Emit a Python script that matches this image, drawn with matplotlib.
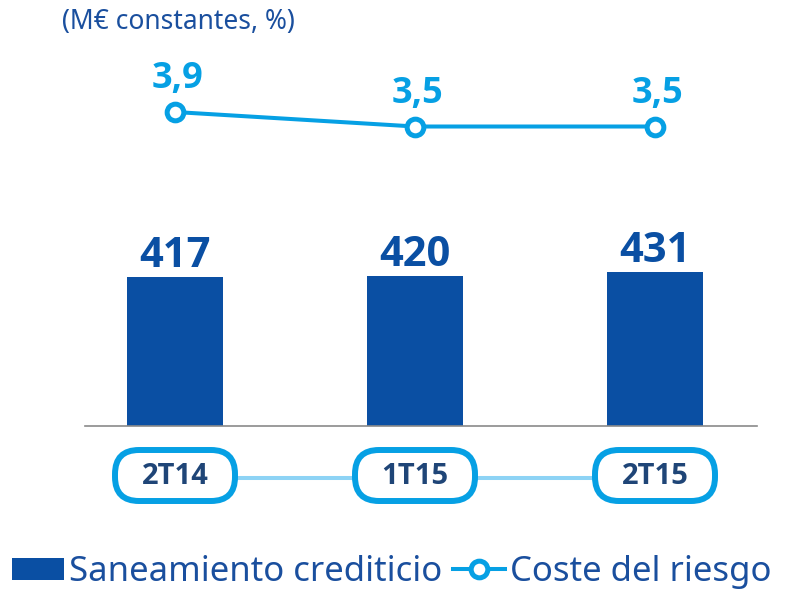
import matplotlib
matplotlib.use("Agg")
import matplotlib.pyplot as plt
from matplotlib.patches import FancyBboxPatch
from matplotlib import font_manager as fm

categories = ["2T14", "1T15", "2T15"]
saneamiento = [417, 420, 431]
coste_riesgo = [3.9, 3.5, 3.5]
coste_labels = ["3,9", "3,5", "3,5"]
title_text = "(M€ constantes, %)"
legend_labels = ["Saneamiento crediticio", "Coste del riesgo"]

BAR = "#0a4fa3"
LINE = "#06a0e4"
NAVY = "#1f4577"
CONN = "#8dd3f5"
FONT = ["Noto Sans", "DejaVu Sans"]
plt.rcParams["font.family"] = FONT

# pick a family that really has a bold face
BOLD = ["DejaVu Sans"]
for fam in ["Open Sans", "Noto Sans", "Lato", "Roboto", "Liberation Sans"]:
    try:
        f = fm.findfont(fm.FontProperties(family=fam, weight="bold"),
                        fallback_to_default=False)
        if "bold" in f.lower() or "Bd" in f or "700" in f:
            BOLD = [fam, "DejaVu Sans"]
            break
    except Exception:
        pass

W, H = 796, 592
fig = plt.figure(figsize=(W / 100, H / 100), dpi=100)

ax = fig.add_axes([85 / W, 1 - 426 / H, 672 / W, 426 / H])
x = list(range(len(categories)))
bars = ax.bar(x, saneamiento, width=0.4, color=BAR, zorder=2,
              label=legend_labels[0])
ax.set_xlim(-0.375, 2.425)
ax.set_ylim(0, 1192.3)
for s in ["top", "left", "right"]:
    ax.spines[s].set_visible(False)
ax.spines["bottom"].set_color("#8a8a8a")
ax.spines["bottom"].set_linewidth(1.2)
ax.set_xticks([])
ax.set_yticks([])
ax.patch.set_alpha(0)

for xi, v in zip(x, saneamiento):
    ax.annotate(str(v), (xi, v), xytext=(0, 7.2), textcoords="offset points",
                ha="center", va="baseline", fontsize=30, fontweight="bold",
                family=BOLD, color=BAR)

ax2 = ax.twinx()
ax2.set_ylim(-4.762, 6.99)
ax2.axis("off")
line, = ax2.plot(x, coste_riesgo, color=LINE, lw=2.9, marker="o",
                 markersize=12, markerfacecolor="white",
                 markeredgecolor=LINE, markeredgewidth=3.6, zorder=3,
                 clip_on=False, label=legend_labels[1])
for xi, v, lab in zip(x, coste_riesgo, coste_labels):
    ax2.annotate(lab, (xi, v), xytext=(2, 17), textcoords="offset points",
                 ha="center", va="baseline", fontsize=26, fontweight="bold",
                 family=BOLD, color=LINE)

# category pills
ov = fig.add_axes([0, 0, 1, 1], zorder=5)
ov.set_xlim(0, W)
ov.set_ylim(0, H)
ov.axis("off")
ov.patch.set_alpha(0)
fig.canvas.draw()
cx = [ax.transData.transform((xi, 0))[0] for xi in x]
yc = H - 475.5
ov.plot([cx[0], cx[-1]], [H - 478, H - 478], color=CONN, lw=2.9, zorder=1,
        solid_capstyle="butt")
pw, ph = 120, 51
for c, lab in zip(cx, categories):
    p = FancyBboxPatch((c - pw / 2, yc - ph / 2), pw, ph,
                       boxstyle="round,pad=0,rounding_size=24",
                       facecolor="white", edgecolor=LINE, lw=4.3, zorder=2)
    ov.add_patch(p)
    ov.text(c, yc - 1, lab, ha="center", va="center", fontsize=21,
            fontweight="bold", family=BOLD, color=NAVY, zorder=3)

fig.text(62 / W, 1 - 22 / H, title_text, ha="left", va="center",
         fontsize=19, color="#1a4f9e")

leg = fig.legend(handles=[bars, line], labels=legend_labels,
                 loc="center left", bbox_to_anchor=(12 / W, 1 - 572 / H),
                 ncol=2, frameon=False, fontsize=25, handlelength=1.5,
                 handleheight=0.58, handletextpad=0.15, columnspacing=0.3,
                 borderpad=0, borderaxespad=0)
for t in leg.get_texts():
    t.set_color("#1a4f9e")

fig.savefig("out.png", dpi=100)
